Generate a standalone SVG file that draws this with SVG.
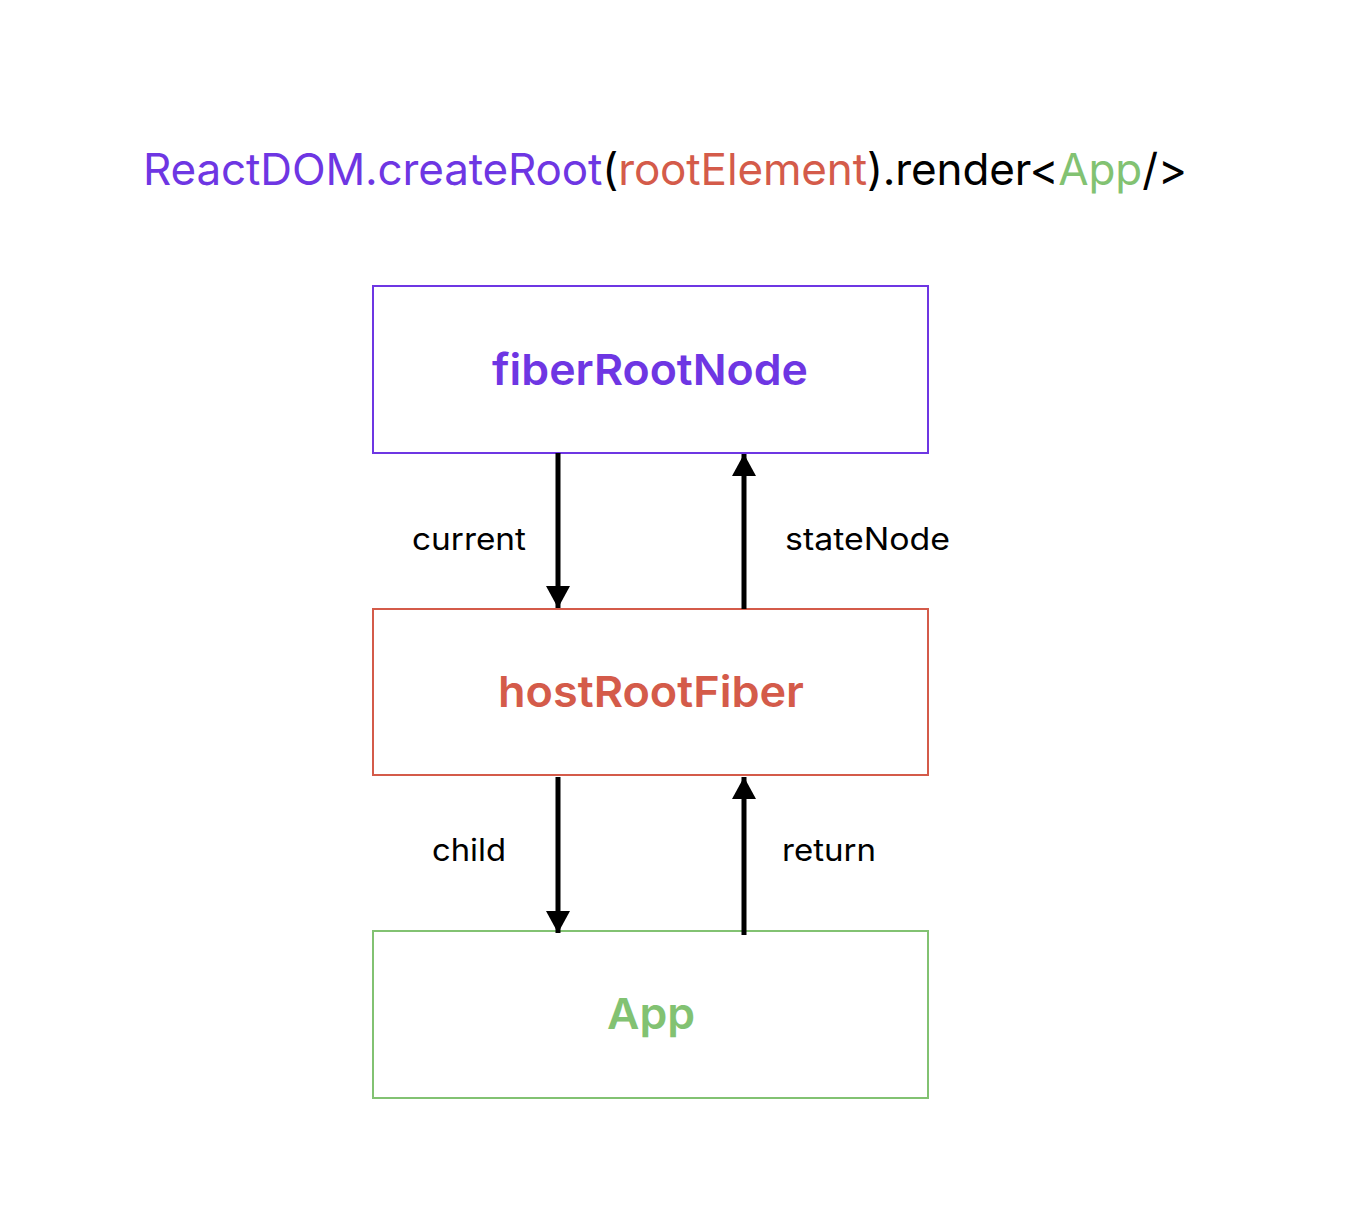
<svg xmlns="http://www.w3.org/2000/svg" width="1360" height="1222" viewBox="0 0 1360 1222">
<defs>
<style>
.box{fill:#fff;stroke-width:2}
.lbl{font-family:Inter,Roboto,"Liberation Sans",sans-serif;font-weight:600;font-size:43px;text-anchor:middle}
.edge{stroke:#000;stroke-width:5;fill:none}
.elbl{font-family:Inter,Roboto,"Liberation Sans",sans-serif;font-size:31px;fill:#000}
.title{font-family:Inter,Roboto,"Liberation Sans",sans-serif;font-size:44px}
</style>
<marker id="ah" viewBox="0 0 22 24" refX="22" refY="12" markerWidth="22" markerHeight="24" markerUnits="userSpaceOnUse" orient="auto">
<path d="M0,0 L22,12 L0,24 Z" fill="#000"/>
</marker>
</defs>
<rect width="1360" height="1222" fill="#fff"/>
<text class="title" x="143" y="185" textLength="1044" lengthAdjust="spacing"><tspan fill="#6E36E3">ReactDOM.createRoot</tspan><tspan fill="#000">(</tspan><tspan fill="#D45B4A">rootElement</tspan><tspan fill="#000">).render&lt;</tspan><tspan fill="#82C272">App</tspan><tspan fill="#000">/&gt;</tspan></text>
<g id="fiberRootNode">
<rect class="box" x="373" y="286" width="555" height="167" stroke="#6E36E3"/>
<text class="lbl" x="650" y="385" fill="#6E36E3" textLength="316" lengthAdjust="spacingAndGlyphs">fiberRootNode</text>
</g>
<g id="hostRootFiber">
<rect class="box" x="373" y="609" width="555" height="166" stroke="#D45B4A"/>
<text class="lbl" x="651" y="707" fill="#D45B4A" textLength="306" lengthAdjust="spacingAndGlyphs">hostRootFiber</text>
</g>
<g id="App">
<rect class="box" x="373" y="931" width="555" height="167" stroke="#82C272"/>
<text class="lbl" x="651" y="1029" fill="#82C272" textLength="88" lengthAdjust="spacingAndGlyphs">App</text>
</g>
<g id="connectors">
<line class="edge" x1="558" y1="453" x2="558" y2="608" marker-end="url(#ah)"/>
<line class="edge" x1="744" y1="609" x2="744" y2="454" marker-end="url(#ah)"/>
<line class="edge" x1="558" y1="777" x2="558" y2="933" marker-end="url(#ah)"/>
<line class="edge" x1="744" y1="935" x2="744" y2="777" marker-end="url(#ah)"/>
<text class="elbl" x="412" y="550" textLength="114" lengthAdjust="spacingAndGlyphs">current</text>
<text class="elbl" x="785" y="550" textLength="165" lengthAdjust="spacingAndGlyphs">stateNode</text>
<text class="elbl" x="432" y="861" textLength="74" lengthAdjust="spacingAndGlyphs">child</text>
<text class="elbl" x="782" y="861" textLength="94" lengthAdjust="spacingAndGlyphs">return</text>
</g>
</svg>
